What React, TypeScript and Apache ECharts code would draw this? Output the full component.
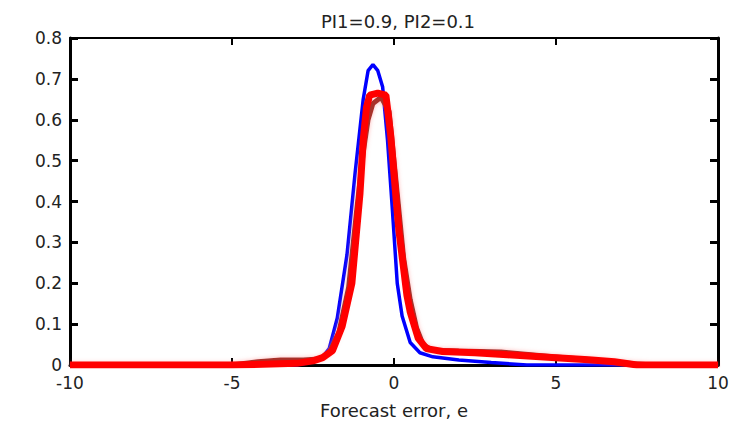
import React, { useEffect, useRef } from "react";
import * as echarts from "echarts";

const titleText = "PI1=0.9, PI2=0.1";
const xAxisName = "Forecast error, e";
const xTicks = [-10, -5, 0, 5, 10];
const yTicks = [0, 0.1, 0.2, 0.3, 0.4, 0.5, 0.6, 0.7, 0.8];

const blueX = [-10, -3, -2.5, -2.2, -2.0, -1.75, -1.45, -1.2, -0.95, -0.8, -0.65, -0.5, -0.35, -0.2, -0.05, 0.1, 0.25, 0.5, 0.8, 1.2, 2, 3, 4.1, 10];
const blueY = [0, 0, 0.008, 0.02, 0.04, 0.115, 0.27, 0.47, 0.65, 0.72, 0.735, 0.72, 0.68, 0.55, 0.38, 0.2, 0.12, 0.055, 0.03, 0.02, 0.012, 0.006, 0, 0];

const brownX = [-10, -5, -4.2, -3.5, -2.8, -2.3, -2.0, -1.7, -1.4, -1.15, -0.95, -0.8, -0.65, -0.4, -0.15, 0.0, 0.15, 0.3, 0.5, 0.7, 0.9, 1.2, 2, 3.3, 4.9, 6.2, 7.4, 8, 10];
const brownY = [0, 0, 0.008, 0.012, 0.012, 0.015, 0.03, 0.08, 0.19, 0.38, 0.52, 0.6, 0.64, 0.655, 0.62, 0.5, 0.38, 0.26, 0.16, 0.09, 0.05, 0.036, 0.034, 0.032, 0.02, 0.012, 0.003, 0, 0];

const redX = [-10, -5, -3, -2.5, -2.2, -1.9, -1.6, -1.3, -1.05, -0.95, -0.85, -0.75, -0.5, -0.25, -0.1, 0.05, 0.15, 0.4, 0.5, 0.75, 1.0, 1.5, 2.5, 3.5, 5, 6, 6.8, 7.5, 10];
const redY = [0, 0, 0.004, 0.01, 0.018, 0.035, 0.095, 0.2, 0.42, 0.55, 0.63, 0.66, 0.665, 0.66, 0.56, 0.42, 0.33, 0.17, 0.13, 0.065, 0.04, 0.033, 0.03, 0.025, 0.018, 0.013, 0.008, 0, 0];

const zip = (xs: number[], ys: number[]) => xs.map((x, i) => [x, ys[i]]);

const FONT = "DejaVu Sans";

export default function App() {
  const ref = useRef<HTMLDivElement>(null);
  useEffect(() => {
    if (!ref.current) return;
    const chart = echarts.init(ref.current, undefined, { renderer: "svg" });
    const axisLine = { show: true, onZero: false, lineStyle: { color: "#000", width: 3 } };
    chart.setOption({
      animation: false,
      backgroundColor: "#fff",
      title: {
        text: titleText,
        left: 393,
        top: 7,
        textAlign: "center",
        textStyle: { fontFamily: FONT, fontSize: 18, fontWeight: "normal", color: "#222" },
      },
      grid: { left: 70, right: 24, top: 38, bottom: 52 },
      xAxis: [
        {
          type: "value",
          min: -10,
          max: 10,
          interval: 5,
          name: xAxisName,
          nameLocation: "middle",
          nameGap: 36,
          nameTextStyle: { fontFamily: FONT, fontSize: 18, color: "#222" },
          axisLine,
          axisTick: { show: true, inside: true, length: 7, lineStyle: { color: "#000", width: 2 } },
          axisLabel: {
            fontFamily: FONT,
            fontSize: 17,
            lineHeight: 13,
            color: "#222",
            margin: 11,
            formatter: (v: number) => (xTicks.includes(v) ? String(v) : ""),
          },
          splitLine: { show: false },
        },
        {
          type: "value",
          position: "top",
          min: -10,
          max: 10,
          interval: 5,
          axisLine: { show: true, onZero: false, lineStyle: { color: "#000", width: 2 } },
          axisTick: { show: true, inside: true, length: 7, lineStyle: { color: "#000", width: 2 } },
          axisLabel: { show: false },
          splitLine: { show: false },
        },
      ],
      yAxis: [
        {
          type: "value",
          min: 0,
          max: 0.8,
          interval: 0.1,
          axisLine,
          axisTick: { show: true, inside: true, length: 8, lineStyle: { color: "#000", width: 3 } },
          axisLabel: {
            fontFamily: FONT,
            fontSize: 17,
            lineHeight: 13,
            color: "#222",
            margin: 8,
            formatter: (v: number) => {
              const t = yTicks.find((k) => Math.abs(k - v) < 1e-9);
              return t === undefined ? "" : t === 0 ? "0" : t.toFixed(1);
            },
          },
          splitLine: { show: false },
        },
        {
          type: "value",
          position: "right",
          min: 0,
          max: 0.8,
          interval: 0.1,
          axisLine,
          axisTick: { show: true, inside: true, length: 8, lineStyle: { color: "#000", width: 3 } },
          axisLabel: { show: false },
          splitLine: { show: false },
        },
      ],
      series: [
        {
          type: "line",
          data: zip(blueX, blueY),
          showSymbol: false,
          lineStyle: { color: "#0000ff", width: 3.5 },
          z: 3,
        },
        {
          type: "line",
          data: zip(brownX, brownY),
          showSymbol: false,
          lineStyle: {
            color: "#a8302a",
            width: 5,
            shadowColor: "rgba(255,140,140,0.6)",
            shadowBlur: 4,
          },
          z: 4,
        },
        {
          type: "line",
          data: zip(redX, redY),
          showSymbol: false,
          lineStyle: { color: "#ff0000", width: 7 },
          z: 5,
        },
      ],
    });
    return () => chart.dispose();
  }, []);
  return (
    <div
      ref={ref}
      style={{ position: "fixed", left: 0, top: 0, width: 742, height: 424, background: "#fff" }}
    />
  );
}
